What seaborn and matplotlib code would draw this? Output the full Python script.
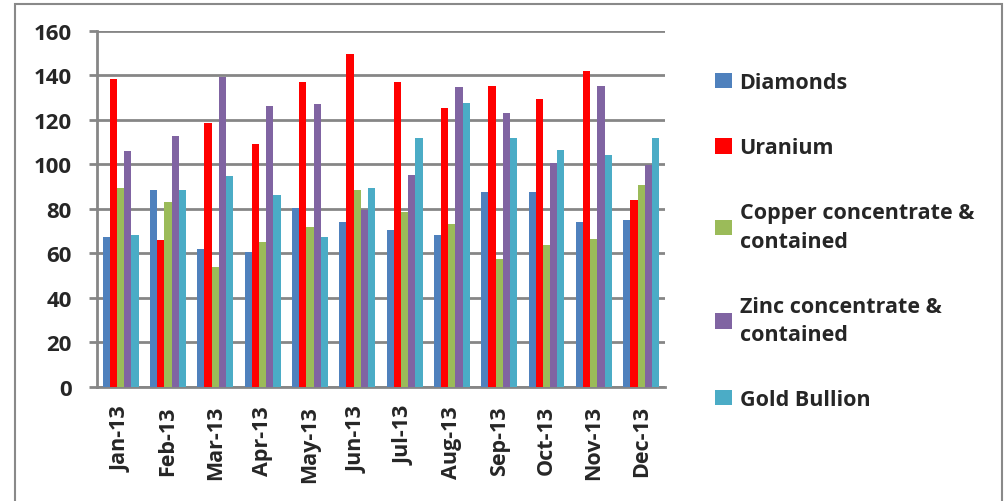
import numpy as np
import pandas as pd
import seaborn as sns
import matplotlib.pyplot as plt
from matplotlib.patches import Rectangle

months = ['Jan-13', 'Feb-13', 'Mar-13', 'Apr-13', 'May-13', 'Jun-13',
          'Jul-13', 'Aug-13', 'Sep-13', 'Oct-13', 'Nov-13', 'Dec-13']
series = ['Diamonds', 'Uranium', 'Copper concentrate &\ncontained',
          'Zinc concentrate &\ncontained', 'Gold Bullion']

diamonds = [67.4, 88.5, 62.1, 60.6, 80.4, 74.1, 70.3, 68.1, 87.7, 87.7, 74.1, 74.8]
uranium = [138.3, 66.0, 118.7, 109.0, 136.8, 149.7, 136.8, 125.4, 135.3, 129.3, 142.0, 84.0]
copper = [89.2, 83.2, 53.9, 65.1, 71.8, 88.5, 78.7, 73.3, 57.6, 63.6, 66.6, 90.9]
zinc = [105.8, 112.7, 139.2, 126.2, 126.9, 79.6, 95.3, 134.6, 123.2, 100.6, 135.3, 99.8]
gold = [68.1, 88.5, 94.6, 86.2, 67.4, 89.2, 112.0, 127.7, 112.0, 106.6, 104.3, 112.0]

colors = ['#4F81BD', '#FF0000', '#9BBB59', '#8064A2', '#4BACC6']

values = [diamonds, uranium, copper, zinc, gold]
df = pd.DataFrame({
    'month': months * len(series),
    'series': np.repeat(series, len(months)),
    'value': np.concatenate(values),
})

sns.set_style('white')
plt.rcParams['font.family'] = ['Open Sans', 'DejaVu Sans']

fig = plt.figure(figsize=(10.05, 5.02), dpi=100)
ax = fig.add_axes([0.0965, 0.227, 0.565, 0.71])

sns.barplot(data=df, x='month', y='value', hue='series', palette=colors,
            width=0.76, saturation=1, linewidth=0, ax=ax, zorder=3)

grid_c = '#868686'
ax.set_ylim(0, 160)
ax.set_yticks(np.arange(0, 161, 20))
ax.set_xlim(-0.5, 11.5)
ax.yaxis.grid(True, color=grid_c, linewidth=2.0, zorder=0)
ax.set_axisbelow(True)
for s in ['top', 'right']:
    ax.spines[s].set_visible(False)
for s in ['left', 'bottom']:
    ax.spines[s].set_color(grid_c)
    ax.spines[s].set_linewidth(2.0)

ax.set_xticks(np.arange(-0.5, 12, 1), minor=True)
ax.tick_params(axis='x', which='major', length=0, pad=13)
ax.tick_params(axis='x', which='minor', length=6, width=2.0, color=grid_c)
ax.tick_params(axis='y', length=6, width=2.0, color=grid_c, pad=12, left=True)
ax.set_xticks(range(len(months)))
ax.set_xticklabels(months, rotation=90, fontsize=15.5, fontweight='bold')
for lbl in ax.get_yticklabels():
    lbl.set_fontsize(16)
    lbl.set_fontweight('bold')
ax.set_xlabel('')
ax.set_ylabel('')

leg = ax.legend(loc='upper left', bbox_to_anchor=(0.692, 0.893),
                bbox_transform=fig.transFigure, frameon=False,
                prop={'size': 15.5, 'weight': 'bold'}, labelspacing=2.05,
                handlelength=0.8, handleheight=0.75, handletextpad=0.35)
for t in leg.get_texts():
    t.set_linespacing(1.45)

fig.patches.append(Rectangle((0.015, -0.05), 0.982, 1.04, transform=fig.transFigure,
                             fill=False, edgecolor='#898989', linewidth=1.5))

fig.savefig('out.png', dpi=100)
